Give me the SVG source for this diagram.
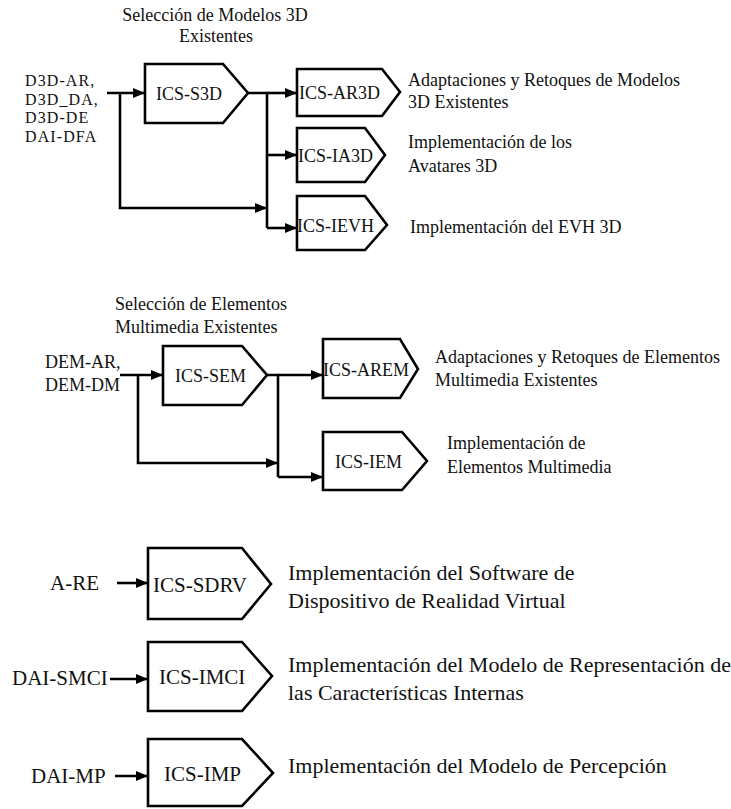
<svg xmlns="http://www.w3.org/2000/svg" width="731" height="809" viewBox="0 0 731 809" font-family="'Liberation Serif', 'DejaVu Serif', serif">
  <defs>
    <marker id="arrow" markerWidth="12" markerHeight="10" refX="12" refY="5" orient="auto" markerUnits="userSpaceOnUse">
      <path d="M0,0 L12,5 L0,10 Z" fill="#000"/>
    </marker>
    <style>
      text { font-family: 'Liberation Serif', 'DejaVu Serif', serif; fill: #111; }
      .s { font-size: 18px; }
      .lab { font-size: 16px; letter-spacing: 1.1px; }
      .m { font-size: 21px; }
      .l { font-size: 22px; }
      .mid { text-anchor: middle; }
      .box { fill: #fff; stroke: #000; stroke-width: 2.6; stroke-linejoin: miter; }
      .wire { fill: none; stroke: #000; stroke-width: 2.6; }
      .wire.a { marker-end: url(#arrow); }
    </style>
  </defs>
  <rect width="731" height="809" fill="#fff"/>

  <!-- section 1: 3D models -->
  <g id="title-3d">
    <text class="s mid" x="215" y="21">Selección de Modelos 3D</text>
    <text class="s mid" x="216" y="42">Existentes</text>
  </g>
  <g id="in-3d">
    <text class="lab" x="25" y="86">D3D-AR,</text>
    <text class="lab" x="25" y="104.5">D3D_DA,</text>
    <text class="lab" x="25" y="123">D3D-DE</text>
    <text class="lab" x="25" y="141.5">DAI-DFA</text>
  </g>
  <g id="ics-s3d">
    <polygon class="box" points="145,64 223,64 248,93 223,123 145,123"/>
    <text class="s" x="156" y="100">ICS-S3D</text>
  </g>
  <g id="ics-ar3d">
    <polygon class="box" points="297,69 382,69 400,92 382,116 297,116"/>
    <text class="s" x="299" y="99">ICS-AR3D</text>
    <text class="s" x="408" y="86">Adaptaciones y Retoques de Modelos</text>
    <text class="s" x="408" y="108">3D Existentes</text>
  </g>
  <g id="ics-ia3d">
    <polygon class="box" points="297,128 365,128 385,155 365,182 297,182"/>
    <text class="s" x="298" y="162">ICS-IA3D</text>
    <text class="s" x="408" y="148">Implementación de los</text>
    <text class="s" x="408" y="172">Avatares 3D</text>
  </g>
  <g id="ics-ievh">
    <polygon class="box" points="297,196 365,196 387,225 365,250 297,250"/>
    <text class="s" x="297" y="232">ICS-IEVH</text>
    <text class="s" x="410" y="233">Implementación del EVH 3D</text>
  </g>

  <!-- section 2: multimedia elements -->
  <g id="title-em">
    <text class="s" x="115" y="310">Selección de Elementos</text>
    <text class="s" x="115" y="333">Multimedia Existentes</text>
  </g>
  <g id="in-em">
    <text class="s" x="45" y="368">DEM-AR,</text>
    <text class="s" x="45" y="391">DEM-DM</text>
  </g>
  <g id="ics-sem">
    <polygon class="box" points="163,346 242,346 267,375 242,405 163,405"/>
    <text class="s" x="175" y="382">ICS-SEM</text>
  </g>
  <g id="ics-arem">
    <polygon class="box" points="323,339 400,339 418,369 400,398 323,398"/>
    <text class="s" x="323" y="376">ICS-AREM</text>
    <text class="s" x="435" y="363">Adaptaciones y Retoques de Elementos</text>
    <text class="s" x="435" y="386">Multimedia Existentes</text>
  </g>
  <g id="ics-iem">
    <polygon class="box" points="323,432 402,432 427,461 402,490 323,490"/>
    <text class="s" x="335" y="468">ICS-IEM</text>
    <text class="s" x="447" y="449">Implementación de</text>
    <text class="s" x="447" y="473">Elementos Multimedia</text>
  </g>

  <!-- section 3: standalone implementations -->
  <g id="ics-sdrv">
    <text class="m" x="50" y="590">A-RE</text>
    <polygon class="box" points="148,548 242,548 271,584 242,619 148,619"/>
    <text class="m" x="153" y="592">ICS-SDRV</text>
    <text class="l" x="288" y="580">Implementación del Software de</text>
    <text class="l" x="288" y="608">Dispositivo de Realidad Virtual</text>
  </g>
  <g id="ics-imci">
    <text class="m" x="12" y="685">DAI-SMCI</text>
    <polygon class="box" points="148,642 242,642 272,676 242,711 148,711"/>
    <text class="m" x="159" y="684">ICS-IMCI</text>
    <text class="l" x="288" y="672">Implementación del Modelo de Representación de</text>
    <text class="l" x="288" y="700">las Características Internas</text>
  </g>
  <g id="ics-imp">
    <text class="m" x="31" y="783">DAI-MP</text>
    <polygon class="box" points="148,739 242,739 273,773 242,806 148,806"/>
    <text class="m" x="164" y="781">ICS-IMP</text>
    <text class="l" x="288" y="773">Implementación del Modelo de Percepción</text>
  </g>

  <g id="connectors">
    <!-- section 1 -->
    <path class="wire a" d="M107,93 H145"/>
    <path class="wire a" d="M120,93 V208 H267"/>
    <path class="wire" d="M248,93 H267 V228"/>
    <path class="wire a" d="M267,93 H297"/>
    <path class="wire a" d="M267,155 H297"/>
    <path class="wire a" d="M267,228 H297"/>
    <!-- section 2 -->
    <path class="wire a" d="M120,375 H163"/>
    <path class="wire a" d="M138,375 V463 H278"/>
    <path class="wire" d="M267,375 H278 V477"/>
    <path class="wire a" d="M278,375 H323"/>
    <path class="wire a" d="M278,477 H323"/>
    <!-- section 3 -->
    <path class="wire a" d="M117,583 H148"/>
    <path class="wire a" d="M110,679 H148"/>
    <path class="wire a" d="M115,776 H148"/>
  </g>
</svg>
